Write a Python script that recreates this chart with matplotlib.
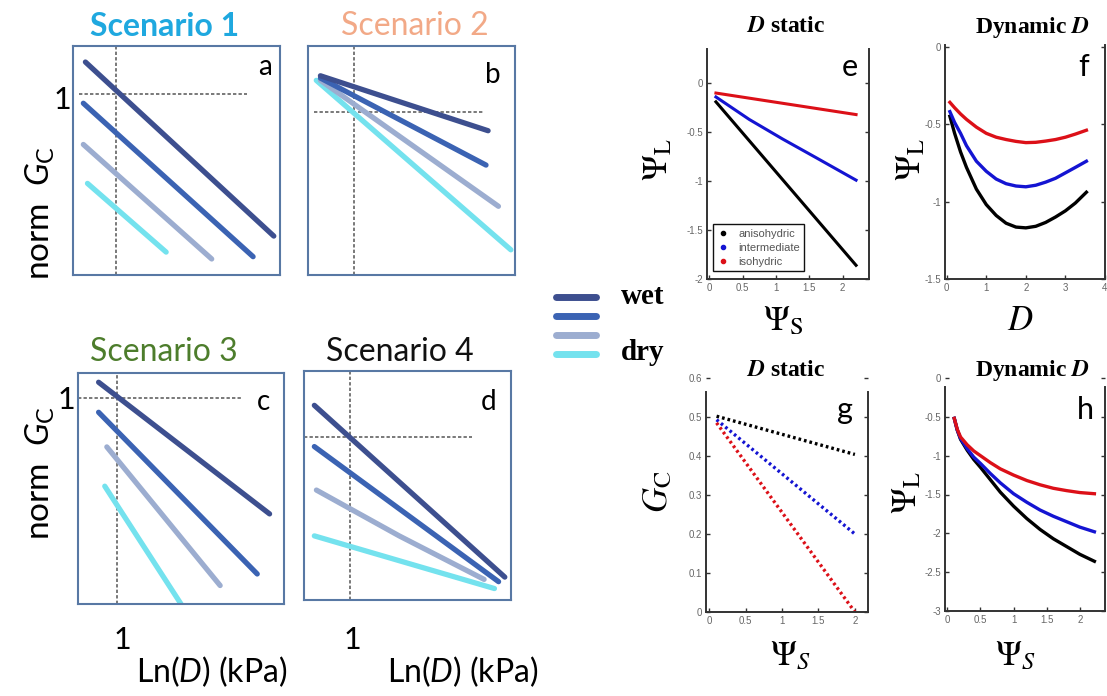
import numpy as np
import matplotlib
matplotlib.use('Agg')
from matplotlib import pyplot as plt
from matplotlib.lines import Line2D
from matplotlib.ticker import FormatStrFormatter

W, H = 1107, 696

# ---- left: conceptual scenarios (axes units 0..1) ----
wet_dry_colors = ['#3d4f8f', '#3b63b3', '#9cadd0', '#74e2ee']

scen1_x = [[0.06, 0.97], [0.05, 0.87], [0.05, 0.67], [0.07, 0.45]]
scen1_y = [[0.93, 0.17], [0.75, 0.08], [0.57, 0.07], [0.40, 0.10]]
scen2_x = [[0.06, 0.87], [0.06, 0.86], [0.06, 0.92], [0.04, 0.98]]
scen2_y = [[0.87, 0.63], [0.86, 0.48], [0.85, 0.30], [0.85, 0.11]]
scen3_x = [[0.10, 0.93], [0.10, 0.87], [0.14, 0.69], [0.13, 0.50]]
scen3_y = [[0.96, 0.39], [0.83, 0.13], [0.68, 0.08], [0.51, 0.00]]
scen4_x = [[0.05, 0.97], [0.05, 0.94], [0.06, 0.46, 0.87], [0.05, 0.92]]
scen4_y = [[0.85, 0.10], [0.67, 0.08], [0.48, 0.28, 0.09], [0.28, 0.05]]

# reference lines: vline x, hline y, hline start, hline end
scen1_ref = [0.21, 0.79, 0.03, 0.84]
scen2_ref = [0.22, 0.71, 0.03, 0.85]
scen3_ref = [0.19, 0.89, 0.00, 0.80]
scen4_ref = [0.22, 0.71, 0.00, 0.81]

scen_titles = ['Scenario 1', 'Scenario 2', 'Scenario 3', 'Scenario 4']
scen_title_colors = ['#1fa8df', '#f2a987', '#4d7d2c', '#111111']
scen_letters = ['a', 'b', 'c', 'd']

# ---- right: model output ----
kind_labels = ['anisohydric', 'intermediate', 'isohydric']
kind_colors = ['#000000', '#1414d2', '#dc1018']

e_x = [0.1, 2.2]
e_aniso = [-0.19, -1.86]
e_inter_x = [0.1, 0.6, 1.1, 1.6, 2.2]
e_inter = [-0.14, -0.37, -0.57, -0.76, -0.99]
e_iso = [-0.10, -0.32]

f_x = [0.08, 0.2, 0.35, 0.5, 0.75, 1.0, 1.25, 1.5, 1.75, 2.0, 2.25, 2.5, 2.75, 3.0, 3.25, 3.53]
f_aniso = [-0.45, -0.56, -0.68, -0.78, -0.92, -1.02, -1.09, -1.14, -1.165, -1.17,
           -1.16, -1.135, -1.10, -1.06, -1.01, -0.94]
f_inter = [-0.42, -0.49, -0.56, -0.64, -0.74, -0.805, -0.855, -0.885, -0.90, -0.905,
           -0.895, -0.875, -0.85, -0.815, -0.78, -0.74]
f_iso = [-0.36, -0.395, -0.435, -0.47, -0.52, -0.56, -0.585, -0.60, -0.612, -0.62,
         -0.618, -0.61, -0.60, -0.585, -0.565, -0.54]

g_x = [0.1, 2.0]
g_aniso = [0.502, 0.404]
g_inter = [0.493, 0.20]
g_iso = [0.485, 0.0]

h_x = [0.105, 0.15, 0.2, 0.3, 0.4, 0.5, 0.65, 0.8, 1.0, 1.2, 1.4, 1.6, 1.8, 2.0, 2.22]
h_aniso = [-0.52, -0.67, -0.79, -0.93, -1.05, -1.15, -1.31, -1.47, -1.65, -1.81,
           -1.95, -2.07, -2.17, -2.27, -2.36]
h_inter = [-0.52, -0.67, -0.78, -0.91, -1.02, -1.10, -1.23, -1.35, -1.49, -1.60,
           -1.70, -1.78, -1.85, -1.92, -1.98]
h_iso = [-0.52, -0.66, -0.76, -0.86, -0.94, -1.00, -1.09, -1.17, -1.25, -1.32,
         -1.375, -1.42, -1.45, -1.475, -1.49]

plt.rcParams['axes.unicode_minus'] = False
plt.rcParams['mathtext.fontset'] = 'custom'
plt.rcParams['mathtext.rm'] = 'Lato'
plt.rcParams['mathtext.it'] = 'Lato:italic'
plt.rcParams['mathtext.bf'] = 'Lato:bold'

fig = plt.figure(figsize=(W / 100, H / 100), dpi=100)


def px_rect(x0, y0, x1, y1):
    return [x0 / W, 1 - y1 / H, (x1 - x0) / W, (y1 - y0) / H]


def ftext(x, y, s, **kw):
    kw.setdefault('ha', 'center')
    kw.setdefault('va', 'center')
    return fig.text(x / W, 1 - y / H, s, **kw)


# left panels
boxes = [(73, 46, 280, 275), (308, 46, 515, 275), (78, 373, 284, 604), (304, 371, 511, 600)]
scen_x = [scen1_x, scen2_x, scen3_x, scen4_x]
scen_y = [scen1_y, scen2_y, scen3_y, scen4_y]
scen_ref = [scen1_ref, scen2_ref, scen3_ref, scen4_ref]
title_pos = [(165, 26), (415, 26), (164, 352), (400, 352)]
title_weight = ['bold', 'normal', 'normal', 'normal']
letter_pos = [(265, 67), (493, 75), (263, 402), (489, 402)]

for i in range(4):
    ax = fig.add_axes(px_rect(*boxes[i]))
    ax.set_xlim(0, 1)
    ax.set_ylim(0, 1)
    ax.set_xticks([])
    ax.set_yticks([])
    for s in ax.spines.values():
        s.set_color('#5878a4')
        s.set_linewidth(1.5)
    vx, hy, h0, h1 = scen_ref[i]
    ax.axvline(vx, color='#555555', ls=(0, (2.2, 1.4)), lw=1.1, zorder=1)
    ax.plot([h0, h1], [hy, hy], color='#555555', ls=(0, (2.2, 1.4)), lw=1.1, zorder=1)
    for k in range(4):
        ax.plot(scen_x[i][k], scen_y[i][k], color=wet_dry_colors[k], lw=3.8,
                solid_capstyle='round', zorder=2 + (3 - k))
    ftext(*title_pos[i], scen_titles[i], color=scen_title_colors[i], family='Lato',
          fontsize=23, weight=title_weight[i])
    ftext(*letter_pos[i], scen_letters[i], family='Lato', fontsize=20)

ftext(40, 213, r'norm  $G_{\mathrm{C}}$', rotation=90, fontsize=24, family='Lato')
ftext(40, 473, r'norm  $G_{\mathrm{C}}$', rotation=90, fontsize=24, family='Lato')
ftext(62, 100, '1', fontsize=22, family='Lato')
ftext(66, 400, '1', fontsize=22, family='Lato')
ftext(122, 640, '1', fontsize=22, family='Lato')
ftext(352, 640, '1', fontsize=22, family='Lato')
ftext(212, 672, r'Ln($D$) (kPa)', fontsize=23, family='Lato')
ftext(463, 672, r'Ln($D$) (kPa)', fontsize=23, family='Lato')

# wet/dry legend
wd_handles = [Line2D([], [], color=c, lw=5, solid_capstyle='round') for c in wet_dry_colors]
fig.legend(handles=wd_handles, labels=[''] * 4, loc='upper left',
           bbox_to_anchor=(556 / W, 1 - 293 / H), frameon=False, fontsize=7.2,
           handlelength=4.0, handleheight=0.7, labelspacing=0.87,
           borderpad=0, borderaxespad=0, handletextpad=0)
ftext(621, 297, 'wet', ha='left', family='Liberation Serif', weight='bold', fontsize=21)
ftext(621, 352, 'dry', ha='left', family='Liberation Serif', weight='bold', fontsize=21)


# right panels, MATLAB look
def matlab_axes(box, xlim, ylim, xticks, yticks, ytop=None):
    ax = fig.add_axes(px_rect(*box))
    ax.set_xlim(*xlim)
    ax.set_ylim(*ylim)
    ax.set_xticks(xticks)
    ax.set_yticks(yticks)
    ax.xaxis.set_major_formatter(FormatStrFormatter('%g'))
    ax.yaxis.set_major_formatter(FormatStrFormatter('%g'))
    ax.spines['top'].set_visible(False)
    for s in ['left', 'right', 'bottom']:
        ax.spines[s].set_color('#333333')
        ax.spines[s].set_linewidth(1.4)
    if ytop is not None:
        ax.spines['left'].set_bounds(ylim[0], ytop)
        ax.spines['right'].set_bounds(ylim[0], ytop)
    ax.tick_params(direction='in', right=True, top=False, length=3, width=1,
                   labelsize=7, labelcolor='#666666', color='#333333', pad=3)
    for lab in ax.get_xticklabels() + ax.get_yticklabels():
        lab.set_family('Liberation Sans')
    return ax


ax_e = matlab_axes((707, 49, 869, 279), (-0.034, 2.394), (-2, 0.35),
                   [0, 0.5, 1, 1.5, 2], [-2, -1.5, -1, -0.5, 0])
ax_e.plot(e_x, e_aniso, color=kind_colors[0], lw=2.2)
ax_e.plot(e_inter_x, e_inter, color=kind_colors[1], lw=2.2)
ax_e.plot(e_x, e_iso, color=kind_colors[2], lw=2.2)
leg_h = [Line2D([], [], ls='none', marker='.', ms=6, color=c) for c in kind_colors]
leg = ax_e.legend(leg_h, kind_labels, loc='lower left', bbox_to_anchor=(0.035, 0.035),
                  borderaxespad=0, fontsize=8, handlelength=1.0, handletextpad=0.9,
                  labelspacing=0.35, borderpad=0.4, fancybox=False,
                  edgecolor='#111111', framealpha=1)
leg.get_frame().set_linewidth(1.0)
for t in leg.get_texts():
    t.set_color('#555555')
    t.set_family('Liberation Sans')

ax_f = matlab_axes((945, 45, 1105, 279), (-0.043, 4.0), (-1.5, 0.01),
                   [0, 1, 2, 3, 4], [-1.5, -1, -0.5, 0])
for yy, c in zip([f_aniso, f_inter, f_iso], kind_colors):
    ax_f.plot(f_x, yy, color=c, lw=2.4)

ax_g = matlab_axes((706, 378, 868, 612), (-0.045, 2.18), (0, 0.6),
                   [0, 0.5, 1, 1.5, 2], [0, 0.1, 0.2, 0.3, 0.4, 0.5, 0.6], ytop=0.565)
for yy, c in zip([g_aniso, g_inter, g_iso], kind_colors):
    ax_g.plot(g_x, yy, color=c, lw=2.4, ls=(0, (0.8, 0.9)))

ax_h = matlab_axes((945, 378, 1105, 611), (-0.035, 2.38), (-3, 0),
                   [0, 0.5, 1, 1.5, 2], [-3, -2.5, -2, -1.5, -1, -0.5, 0], ytop=-0.12)
for yy, c in zip([h_aniso, h_inter, h_iso], kind_colors):
    ax_h.plot(h_x, yy, color=c, lw=2.4)

# titles and labels on right
ser = dict(family='Liberation Serif', weight='bold', fontsize=17, math_fontfamily='stix')
ftext(786, 27, r'$\mathbfit{D}$ static', **ser)
ftext(1032, 27, r'Dynamic $\mathbfit{D}$', **ser)
ftext(786, 370, r'$\mathbfit{D}$ static', **ser)
ftext(1032, 370, r'Dynamic $\mathbfit{D}$', **ser)

psi = dict(fontsize=25, math_fontfamily='stix')
ftext(657, 160, r'$\Psi_{\mathrm{L}}$', rotation=90, **psi)
ftext(910, 160, r'$\Psi_{\mathrm{L}}$', rotation=90, **psi)
ftext(906, 493, r'$\Psi_{\mathrm{L}}$', rotation=90, **psi)
ftext(657, 492, r'$G_{\mathrm{C}}$', rotation=90, **psi)
ftext(783, 320, r'$\Psi_{\mathrm{S}}$', **psi)
ftext(1020, 320, r'$D$', **psi)
ftext(790, 655, r'$\Psi_S$', **psi)
ftext(1015, 655, r'$\Psi_S$', **psi)

for (x, y), s in zip([(850, 67), (1084, 67), (845, 410), (1085, 410)], 'efgh'):
    ftext(x, y, s, family='Lato', fontsize=22)

fig.savefig('out.png', dpi=100)
